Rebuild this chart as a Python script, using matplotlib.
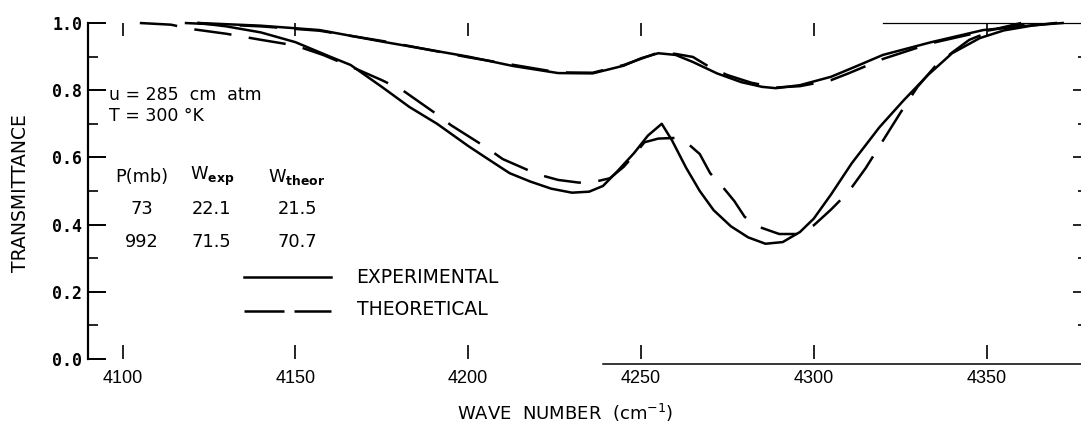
import matplotlib
matplotlib.use("Agg")
import matplotlib.pyplot as plt
from matplotlib.ticker import MultipleLocator, FixedLocator, FormatStrFormatter

# Wave numbers (cm^-1) and transmittance for each run
exp_992_x = [4122, 4130, 4140, 4150, 4160, 4166, 4175, 4183, 4191, 4200, 4205, 4212,
             4218, 4224, 4230, 4235, 4239, 4243, 4248, 4252, 4256, 4259, 4263, 4267,
             4271, 4276, 4281, 4286, 4291, 4296, 4300, 4305, 4311, 4319, 4326, 4333,
             4340, 4348, 4355, 4363, 4370]
exp_992_y = [1.000, 0.990, 0.972, 0.943, 0.900, 0.875, 0.810, 0.750, 0.700, 0.634, 0.600, 0.553,
             0.528, 0.507, 0.495, 0.498, 0.515, 0.557, 0.613, 0.665, 0.700, 0.650, 0.570, 0.500,
             0.443, 0.395, 0.362, 0.343, 0.348, 0.378, 0.418, 0.490, 0.583, 0.690, 0.770, 0.845,
             0.910, 0.955, 0.978, 0.992, 1.000]

theor_992_x = [4105, 4114, 4120, 4130, 4140, 4150, 4158, 4165, 4175, 4181, 4190, 4195,
               4205, 4210, 4220, 4226, 4232, 4236, 4241, 4245, 4248, 4251, 4255, 4260,
               4263, 4267, 4270, 4273, 4277, 4280, 4285, 4290, 4295, 4300, 4305, 4310,
               4315, 4320, 4325, 4330, 4335, 4340, 4345, 4353, 4360]
theor_992_y = [1.000, 0.995, 0.982, 0.968, 0.950, 0.933, 0.905, 0.875, 0.830, 0.800, 0.735, 0.696,
               0.631, 0.595, 0.550, 0.533, 0.525, 0.526, 0.538, 0.572, 0.607, 0.645, 0.656, 0.658,
               0.646, 0.610, 0.553, 0.520, 0.470, 0.423, 0.390, 0.372, 0.372, 0.398, 0.445, 0.497,
               0.568, 0.650, 0.732, 0.810, 0.870, 0.912, 0.950, 0.983, 1.000]

exp_73_x = [4122, 4140, 4157, 4176, 4190, 4200, 4213, 4226, 4236, 4245, 4250, 4255,
            4260, 4265, 4272, 4279, 4285, 4289, 4296, 4305, 4312, 4320, 4334, 4349,
            4363, 4372]
exp_73_y = [1.000, 0.992, 0.979, 0.943, 0.918, 0.900, 0.872, 0.851, 0.850, 0.873, 0.895, 0.910,
            0.905, 0.884, 0.850, 0.824, 0.810, 0.806, 0.815, 0.840, 0.870, 0.905, 0.943, 0.979,
            0.993, 1.000]

theor_73_x = [4118, 4140, 4157, 4176, 4200, 4226, 4236, 4245, 4255, 4260, 4265, 4270,
              4275, 4282, 4289, 4296, 4305, 4310, 4320, 4334, 4349, 4360, 4365]
theor_73_y = [1.000, 0.990, 0.977, 0.945, 0.898, 0.853, 0.852, 0.875, 0.912, 0.908, 0.899, 0.868,
              0.845, 0.822, 0.808, 0.812, 0.830, 0.850, 0.893, 0.940, 0.975, 0.995, 1.000]

# Equivalent widths table
pressures = ["73", "992"]
w_exp = ["22.1", "71.5"]
w_theor = ["21.5", "70.7"]

x_ticks = [4100, 4150, 4200, 4250, 4300, 4350]

W, H = 1081, 425
fig = plt.figure(figsize=(W / 100, H / 100), dpi=100)
ax = fig.add_axes([88 / W, (H - 359) / H, 993 / W, 336 / H])
ax.set_xlim(4090, 4377.3)
ax.set_ylim(0.0, 1.0)

lw = 1.8
dash = (0, (15, 7))
for xs, ys, ls in [(exp_992_x, exp_992_y, "-"), (theor_992_x, theor_992_y, dash),
                   (exp_73_x, exp_73_y, "-"), (theor_73_x, theor_73_y, dash)]:
    ax.plot(xs, ys, color="black", lw=lw, linestyle=ls, clip_on=False,
            solid_joinstyle="round", dash_capstyle="butt")

# Partial frame lines at top and bottom
ax.plot([4320, 4377.3], [1.0, 1.0], color="black", lw=0.9, clip_on=False)
ax.plot([4239, 4377.3], [-0.014, -0.014], color="black", lw=1.1, clip_on=False)

# Spines
for side in ["top", "right", "bottom"]:
    ax.spines[side].set_visible(False)
ax.spines["left"].set_linewidth(1.6)

# Left axis ticks
ax.yaxis.set_major_locator(MultipleLocator(0.2))
ax.yaxis.set_minor_locator(FixedLocator([0.1, 0.3, 0.5, 0.7, 0.9]))
ax.yaxis.set_major_formatter(FormatStrFormatter("%.1f"))
ax.tick_params(axis="y", which="major", direction="in", length=13, width=1.4, pad=4,
               labelsize=12)
ax.tick_params(axis="y", which="minor", direction="in", length=7.2, width=1.2)
for lab in ax.get_yticklabels():
    lab.set_fontfamily("DejaVu Sans Mono")
    lab.set_fontweight("bold")
ax.yaxis.get_major_ticks()[0].tick1line.set_visible(False)

# Bottom ticks
ax.set_xticks(x_ticks)
ax.set_xticklabels([str(t) for t in x_ticks], fontfamily="Liberation Sans", fontsize=13)
ax.tick_params(axis="x", direction="in", length=10, width=1.2, pad=8)

# Top ticks
top = ax.secondary_xaxis("top")
top.set_xticks(x_ticks)
top.set_xticklabels([])
top.tick_params(direction="in", length=9.5, width=1.2)
top.spines["top"].set_visible(False)

# Right ticks
right = ax.secondary_yaxis("right")
right.yaxis.set_major_locator(FixedLocator([0.2, 0.4, 0.6, 0.8]))
right.yaxis.set_minor_locator(FixedLocator([0.1, 0.3, 0.5, 0.7, 0.9]))
right.set_yticklabels([])
right.tick_params(which="major", direction="in", length=5.8, width=1.2)
right.tick_params(which="minor", direction="in", length=2.5, width=1.2)
right.spines["right"].set_visible(False)

# Axis labels
fig.text(21 / W, 1 - 193 / H, "TRANSMITTANCE", rotation=90, ha="center", va="center",
         fontsize=13.5)
fig.text(565 / W, 1 - 413 / H, "WAVE  NUMBER  (cm$^{-1}$)", ha="center", va="center",
         fontsize=13)

# Conditions
fs = 12.8
ax.text(4096, 0.785, "u = 285  cm  atm", fontsize=12.5, va="center", ha="left")
ax.text(4096, 0.723, "T = 300 °K", fontsize=12.5, va="center", ha="left")

# Table
col_x = [4105.6, 4125.8, 4150.5]
head_y = 0.543
ax.text(col_x[0], head_y, "P(mb)", fontsize=fs, ha="center", va="center")
ax.text(col_x[1], head_y, "W$_{\\mathbf{exp}}$", fontsize=fs, ha="center", va="center")
ax.text(col_x[2], head_y, "W$_{\\mathbf{theor}}$", fontsize=fs, ha="center", va="center")
for row_y, p, we, wt in zip([0.446, 0.348], pressures, w_exp, w_theor):
    ax.text(col_x[0], row_y, p, fontsize=fs, ha="center", va="center")
    ax.text(col_x[1], row_y, we, fontsize=fs, ha="center", va="center")
    ax.text(col_x[2], row_y, wt, fontsize=fs, ha="center", va="center")

# Key
ax.plot([4135, 4160.2], [0.244, 0.244], color="black", lw=lw)
ax.plot([4135, 4160.2], [0.143, 0.143], color="black", lw=lw, linestyle=(0, (16, 4)))
ax.text(4167.7, 0.244, "EXPERIMENTAL", fontsize=13.5, va="center", ha="left")
ax.text(4167.7, 0.146, "THEORETICAL", fontsize=13.5, va="center", ha="left")

fig.savefig("out.png", dpi=100)
